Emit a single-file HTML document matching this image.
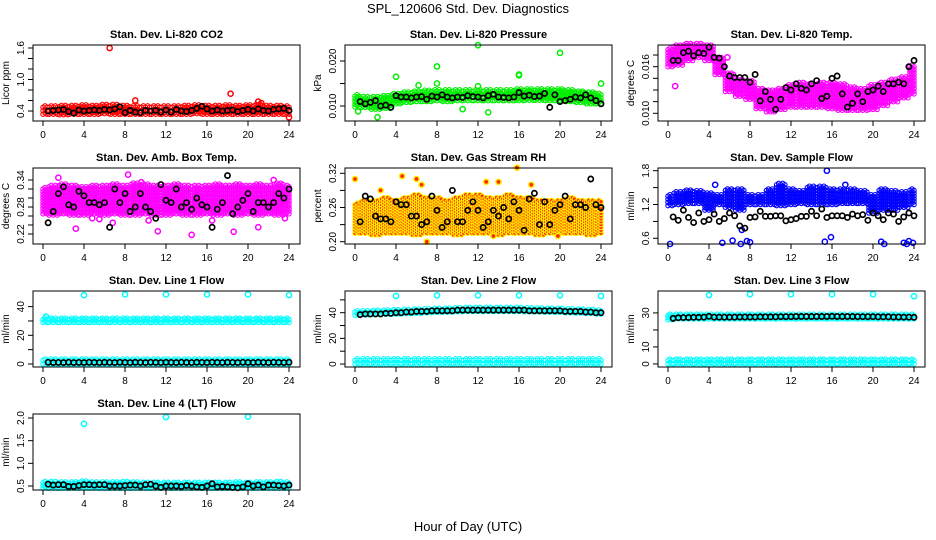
<!DOCTYPE html>
<html><head><meta charset="utf-8">
<style>
html,body{margin:0;padding:0;background:#fff;}
svg{display:block;font-family:"Liberation Sans",sans-serif;}
</style></head>
<body>
<svg id="chart" width="936" height="540" viewBox="0 0 936 540">
<text x="468" y="13" text-anchor="middle" font-size="13">SPL_120606  Std. Dev. Diagnostics</text>
<text x="468" y="531" text-anchor="middle" font-size="13">Hour of Day (UTC)</text>
</svg>
<script>
// ---- data (hours 0..24 for clouds, 0.5..24 step 0.5 for black points) ----
const xTicks = [0,4,8,12,16,20,24];
const co2Lo = [0.34,0.34,0.33,0.34,0.34,0.34,0.35,0.34,0.34,0.34,0.34,0.34,0.34,0.34,0.34,0.35,0.34,0.34,0.34,0.34,0.34,0.34,0.34,0.34,0.34];
const co2Hi = [0.47,0.47,0.48,0.48,0.49,0.48,0.50,0.50,0.48,0.47,0.47,0.47,0.47,0.47,0.48,0.49,0.48,0.48,0.49,0.48,0.49,0.50,0.48,0.48,0.47];
const co2Black = [0.40,0.41,0.42,0.43,0.39,0.36,0.42,0.40,0.41,0.42,0.41,0.43,0.42,0.44,0.48,0.37,0.41,0.38,0.37,0.41,0.40,0.41,0.38,0.42,0.38,0.43,0.40,0.39,0.41,0.45,0.49,0.44,0.40,0.42,0.40,0.41,0.42,0.39,0.41,0.43,0.40,0.44,0.41,0.40,0.43,0.44,0.45,0.41];
const co2OutX = [6.5,9,18.3,21,21.3,24];
const co2OutY = [1.6,0.6,0.73,0.58,0.55,0.28];

const presLo = [0.0098,0.0097,0.0093,0.0095,0.0105,0.0108,0.0110,0.0110,0.0112,0.0110,0.0112,0.0112,0.0112,0.0112,0.0112,0.0112,0.0112,0.0113,0.0113,0.0112,0.0112,0.0110,0.0108,0.0105,0.0105];
const presHi = [0.0122,0.0118,0.0118,0.0120,0.0125,0.0128,0.0130,0.0132,0.0133,0.0133,0.0133,0.0133,0.0133,0.0133,0.0133,0.0133,0.0135,0.0135,0.0135,0.0135,0.0135,0.0133,0.0130,0.0128,0.0125];
const presBlack = [0.0110,0.0105,0.0108,0.0112,0.0100,0.0102,0.0097,0.0123,0.0120,0.0120,0.0118,0.0120,0.0121,0.0115,0.0122,0.0120,0.0125,0.0120,0.0118,0.0120,0.0119,0.0123,0.0121,0.0120,0.0118,0.0123,0.0126,0.0120,0.0119,0.0118,0.0120,0.0130,0.0122,0.0124,0.0121,0.0122,0.0128,0.0097,0.0125,0.0110,0.0112,0.0115,0.0120,0.0118,0.0125,0.0118,0.0112,0.0105];
const presOutX = [0.3,4,6.2,8,8,12,12,16,16,20,24,13,10.5,2.2];
const presOutY = [0.0088,0.0165,0.0146,0.0188,0.0150,0.0235,0.0144,0.0170,0.0168,0.0218,0.0150,0.0086,0.0093,0.0075];

const tempLo = [0.0160,0.0162,0.0168,0.0172,0.0168,0.0150,0.0128,0.0122,0.0118,0.0106,0.0102,0.0105,0.0108,0.0108,0.0108,0.0108,0.0106,0.0104,0.0104,0.0104,0.0105,0.0110,0.0115,0.0120,0.0125];
const tempHi = [0.0182,0.0186,0.0188,0.0188,0.0186,0.0170,0.0150,0.0142,0.0140,0.0130,0.0128,0.0130,0.0135,0.0138,0.0136,0.0138,0.0138,0.0136,0.0132,0.0130,0.0135,0.0138,0.0142,0.0145,0.0160];
const tempBlack = [0.0168,0.0168,0.0178,0.0180,0.0174,0.0178,0.0177,0.0185,0.0172,0.0171,0.0160,0.0148,0.0146,0.0146,0.0146,0.0140,0.0150,0.0116,0.0128,0.0118,0.0105,0.0118,0.0133,0.0130,0.0138,0.0132,0.0130,0.0138,0.0142,0.0119,0.0122,0.0145,0.0148,0.0125,0.0108,0.0113,0.0125,0.0115,0.0128,0.0130,0.0135,0.0128,0.0138,0.0138,0.0140,0.0138,0.0160,0.0168];
const tempOutX = [0.7,4.5,5.8];
const tempOutY = [0.0135,0.0170,0.0172];

const ambLo = [0.265,0.262,0.265,0.262,0.262,0.265,0.262,0.265,0.262,0.262,0.265,0.262,0.262,0.265,0.262,0.262,0.265,0.262,0.265,0.262,0.265,0.262,0.265,0.262,0.265];
const ambHi = [0.320,0.325,0.328,0.325,0.322,0.325,0.325,0.328,0.325,0.330,0.328,0.325,0.325,0.328,0.325,0.325,0.325,0.328,0.325,0.328,0.325,0.328,0.325,0.330,0.325];
const ambBlack = [0.245,0.27,0.31,0.325,0.285,0.28,0.315,0.305,0.29,0.29,0.285,0.29,0.235,0.32,0.29,0.31,0.27,0.28,0.31,0.28,0.27,0.255,0.33,0.295,0.29,0.32,0.28,0.29,0.275,0.30,0.285,0.28,0.235,0.275,0.29,0.35,0.265,0.28,0.295,0.31,0.27,0.29,0.29,0.28,0.29,0.31,0.30,0.32];
const ambOutX = [3.2,6.8,8.3,11.2,14.5,18.6,21,22.5,1.5,9.6,4.8,5.5,10.3,16.5,23.6];
const ambOutY = [0.232,0.245,0.352,0.226,0.218,0.225,0.235,0.34,0.345,0.335,0.255,0.253,0.25,0.25,0.255];

const rhLo = [0.215,0.215,0.212,0.215,0.215,0.215,0.212,0.215,0.215,0.215,0.212,0.215,0.215,0.215,0.212,0.215,0.215,0.215,0.212,0.215,0.215,0.215,0.215,0.212,0.215];
const rhHi = [0.265,0.27,0.27,0.275,0.27,0.275,0.28,0.275,0.275,0.27,0.275,0.28,0.28,0.275,0.275,0.28,0.275,0.275,0.27,0.27,0.27,0.275,0.27,0.27,0.27];
const rhBlack = [0.235,0.28,0.275,0.245,0.24,0.24,0.235,0.27,0.265,0.265,0.245,0.245,0.23,0.235,0.28,0.255,0.225,0.235,0.29,0.235,0.235,0.255,0.27,0.255,0.225,0.235,0.255,0.245,0.26,0.24,0.27,0.255,0.22,0.275,0.285,0.23,0.27,0.23,0.255,0.265,0.28,0.24,0.265,0.265,0.26,0.31,0.265,0.26];
const rhOutX = [0,4.6,6,7,13.5,15.8,19.8,12.8,14,17.2,6.5,2.5];
const rhOutY = [0.31,0.315,0.31,0.20,0.21,0.33,0.21,0.305,0.305,0.30,0.30,0.29];

const flowLo = [1.18,1.2,1.22,1.22,1.1,1.2,1.15,1.1,1.2,1.2,1.2,1.18,1.2,1.22,1.2,1.2,1.2,1.22,1.22,1.22,1.05,1.1,1.1,1.15,1.2];
const flowHi = [1.35,1.4,1.43,1.42,1.38,1.35,1.45,1.45,1.35,1.35,1.45,1.55,1.45,1.42,1.5,1.5,1.45,1.45,1.45,1.42,1.35,1.45,1.42,1.4,1.45];
const flowBlack = [0.98,0.92,1.1,0.97,0.88,1.05,0.9,0.93,1.03,0.9,0.95,1.05,1.0,0.82,0.78,0.97,0.98,1.08,0.99,0.99,1.0,1.0,0.91,0.93,0.95,0.99,0.99,1.08,1.0,1.12,0.97,1.0,1.0,1.0,0.97,1.03,1.0,1.02,0.92,1.05,1.0,0.93,1.05,1.03,0.9,0.98,1.05,1.0];
const flowOutX = [0.2,5.3,6.3,7.1,7.7,8,15.3,15.5,15.9,20.8,21.1,23,23.3,23.5,23.9,4.6,17.3,7.2];
const flowOutY = [0.5,0.52,0.56,0.5,0.55,0.53,0.54,1.8,0.62,0.54,0.5,0.52,0.5,0.55,0.52,1.55,1.55,0.75];

const l1LoA = [29,29,29,29,29,29,29,29,29,29,29,29,29,29,29,29,29,29,29,29,29,29,29,29,29];
const l1HiA = [31,31,31,31,31,31,31,31,31,31,31,31,31,31,31,31,31,31,31,31,31,31,31,31,31];
const l1LoB = [0,0,0,0,0,0,0,0,0,0,0,0,0,0,0,0,0,0,0,0,0,0,0,0,0];
const l1HiB = [2.5,2.5,2.5,2.5,2.5,2.5,2.5,2.5,2.5,2.5,2.5,2.5,2.5,2.5,2.5,2.5,2.5,2.5,2.5,2.5,2.5,2.5,2.5,2.5,2.5];
const l1Black = [1.2,1.0,1.1,1.0,1.2,1.0,1.1,1.0,1.2,1.1,1.0,1.2,1.1,1.0,1.2,1.1,1.0,1.2,1.1,1.0,1.2,1.1,1.0,1.2,1.1,1.0,1.2,1.1,1.0,1.2,1.1,1.0,1.2,1.1,1.0,1.2,1.1,1.0,1.2,1.1,1.0,1.2,1.1,1.0,1.2,1.1,1.0,1.2];
const l1OutX = [4,8,12,16,20,24,0.3];
const l1OutY = [48,48.5,48.5,48.5,48.5,48,33];

const l2LoA = [38,38.3,38.5,38.8,39,39.3,39.6,40,40.3,40.5,40.8,41,41,41,41,41,41,40.8,40.6,40.5,40.3,40,39.8,39.5,39];
const l2HiA = [40.5,40.5,40.8,41,41.3,41.5,41.8,42,42.3,42.5,42.8,43,43,43,43,43,43,42.8,42.6,42.5,42.3,42,41.8,41.5,41];
const l2LoB = [0,0,0,0,0,0,0,0,0,0,0,0,0,0,0,0,0,0,0,0,0,0,0,0,0];
const l2HiB = [3,3,3,3,3,3,3,3,3,3,3,3,3,3,3,3,3,3,3,3,3,3,3,3,3];
const l2Black = [38.5,39,39,39,39,39.5,39.5,40,40,40.5,40.5,41,41,41,41.5,41.5,41.5,41.5,41.5,42,42,42,42,42,42,42,42,42,42,42,42,42,42,41.5,41.5,41.5,41.5,41.5,41.5,41.5,41,41,41,41,40.5,40.5,40,40];
const l2OutX = [4,8,12,16,20,24];
const l2OutY = [53,53.5,53.5,53.5,53.5,53];

const l3LoA = [26,26.5,26.5,26.5,26.5,26.5,26.5,26.5,26.5,26.5,26.5,26.5,26.5,26.5,26.5,26.5,26.5,26.5,26.5,26.5,26.5,26.5,26.5,26.5,26.5];
const l3HiA = [28.5,28.5,28.5,28.5,28.5,28.5,28.5,28.5,28.5,28.5,28.5,28.5,28.5,28.5,28.5,28.5,28.5,28.5,28.5,28.5,28.5,28.5,28.5,28.5,28.5];
const l3LoB = [0,0,0,0,0,0,0,0,0,0,0,0,0,0,0,0,0,0,0,0,0,0,0,0,0];
const l3HiB = [2,2,2,2,2,2,2,2,2,2,2,2,2,2,2,2,2,2,2,2,2,2,2,2,2];
const l3Black = [26.8,27.2,27.3,27.3,27.4,27.4,27.5,28,27.5,27.5,27.5,27.5,27.5,27.6,27.6,27.6,27.6,27.7,27.7,27.7,27.7,27.8,27.8,27.8,27.9,27.9,27.9,27.9,27.9,27.9,27.9,28,27.9,27.9,27.9,27.9,27.8,27.8,27.8,27.8,27.7,27.7,27.7,27.6,27.6,27.5,27.5,27.4];
const l3OutX = [4,8,12,16,20,24];
const l3OutY = [40.5,41,41,41,41,39.8];

const l4Lo = [0.45,0.45,0.45,0.45,0.45,0.45,0.45,0.45,0.45,0.45,0.45,0.45,0.45,0.45,0.45,0.45,0.45,0.45,0.45,0.45,0.45,0.45,0.45,0.45,0.45];
const l4Hi = [0.57,0.57,0.56,0.56,0.58,0.56,0.56,0.56,0.57,0.56,0.55,0.55,0.55,0.55,0.55,0.55,0.55,0.55,0.55,0.56,0.55,0.56,0.56,0.57,0.56];
const l4Black = [0.54,0.52,0.53,0.53,0.49,0.49,0.51,0.53,0.53,0.52,0.53,0.53,0.50,0.50,0.50,0.51,0.52,0.52,0.50,0.53,0.54,0.50,0.47,0.50,0.50,0.50,0.49,0.51,0.50,0.48,0.47,0.50,0.55,0.48,0.49,0.48,0.47,0.46,0.48,0.55,0.50,0.52,0.48,0.52,0.52,0.51,0.50,0.52];
const l4OutX = [4,12,20];
const l4OutY = [1.87,2.02,2.03];

// ---- panel definitions ----
const panels = [
 {name:'co2',title:'Stan. Dev. Li-820 CO2',ylab:'Licor ppm',col:0,row:0,ymin:0.21,ymax:1.657,ticks:[0.4,0.6,0.8,1.0,1.2,1.4,1.6],labels:['0.4','','','1.0','','','1.6'],color:'#ff0000',fill:'none',bands:[[co2Lo,co2Hi]],black:co2Black,ox:co2OutX,oy:co2OutY},
 {name:'pressure',title:'Stan. Dev. Li-820 Pressure',ylab:'kPa',col:1,row:0,ymin:0.00667,ymax:0.02356,ticks:[0.010,0.015,0.020],labels:['0.010','','0.020'],color:'#00ee00',fill:'none',bands:[[presLo,presHi]],black:presBlack,ox:presOutX,oy:presOutY},
 {name:'temp',title:'Stan. Dev. Li-820 Temp.',ylab:'degrees C',col:2,row:0,ymin:0.00901,ymax:0.01879,ticks:[0.010,0.0115,0.013,0.0145,0.016,0.0175],labels:['0.010','','','','0.016',''],color:'#ff00ff',fill:'none',bands:[[tempLo,tempHi]],black:tempBlack,ox:tempOutX,oy:tempOutY},
 {name:'amb-box-temp',title:'Stan. Dev. Amb. Box Temp.',ylab:'degrees C',col:0,row:1,ymin:0.1978,ymax:0.3667,ticks:[0.22,0.24,0.26,0.28,0.30,0.32,0.34],labels:['0.22','','','0.28','','','0.34'],color:'#ff00ff',fill:'none',bands:[[ambLo,ambHi]],black:ambBlack,ox:ambOutX,oy:ambOutY},
 {name:'gas-stream-rh',title:'Stan. Dev. Gas Stream RH',ylab:'percent',col:1,row:1,ymin:0.196,ymax:0.3293,ticks:[0.20,0.23,0.26,0.29,0.32],labels:['0.20','','0.26','','0.32'],color:'#ffee00',fill:'#ff2a00',bands:[[rhLo,rhHi]],black:rhBlack,ox:rhOutX,oy:rhOutY},
 {name:'sample-flow',title:'Stan. Dev. Sample Flow',ylab:'ml/min',col:2,row:1,ymin:0.499,ymax:1.848,ticks:[0.6,0.9,1.2,1.5,1.8],labels:['0.6','','1.2','','1.8'],color:'#0000ff',fill:'none',bands:[[flowLo,flowHi]],black:flowBlack,ox:flowOutX,oy:flowOutY},
 {name:'line1-flow',title:'Stan. Dev. Line 1 Flow',ylab:'ml/min',col:0,row:2,ymin:-2.1,ymax:50.9,ticks:[0,10,20,30,40],labels:['0','','20','','40'],color:'#00ffff',fill:'none',bands:[[l1LoA,l1HiA],[l1LoB,l1HiB]],black:l1Black,ox:l1OutX,oy:l1OutY},
 {name:'line2-flow',title:'Stan. Dev. Line 2 Flow',ylab:'ml/min',col:1,row:2,ymin:-2.3,ymax:56.9,ticks:[0,10,20,30,40,50],labels:['0','','20','','40',''],color:'#00ffff',fill:'none',bands:[[l2LoA,l2HiA],[l2LoB,l2HiB]],black:l2Black,ox:l2OutX,oy:l2OutY},
 {name:'line3-flow',title:'Stan. Dev. Line 3 Flow',ylab:'ml/min',col:2,row:2,ymin:-1.8,ymax:42.9,ticks:[0,10,20,30],labels:['0','10','','30'],color:'#00ffff',fill:'none',bands:[[l3LoA,l3HiA],[l3LoB,l3HiB]],black:l3Black,ox:l3OutX,oy:l3OutY},
 {name:'line4-flow',title:'Stan. Dev. Line 4 (LT) Flow',ylab:'ml/min',col:0,row:3,ymin:0.412,ymax:2.088,ticks:[0.5,1.0,1.5,2.0],labels:['0.5','1.0','1.5','2.0'],color:'#00ffff',fill:'none',bands:[[l4Lo,l4Hi]],black:l4Black,ox:l4OutX,oy:l4OutY}
];
const colLeft = [33,345,658];
const rowTop = [45,168,291,414];
const W = 267, H = 76;

const NS = 'http://www.w3.org/2000/svg';
const svg = document.getElementById('chart');
function mk(tag, attrs, parent){
  const e = document.createElementNS(NS, tag);
  for (const k in attrs) e.setAttribute(k, attrs[k]);
  (parent||svg).appendChild(e);
  return e;
}

panels.forEach(p => {
  const L = colLeft[p.col], T = rowTop[p.row], B = T + H;
  const xs = h => L + 10 + h * (246/24);
  const ys = v => B - (v - p.ymin) / (p.ymax - p.ymin) * H;
  const g = mk('g', {});
  
  

  const t = mk('text', {x: L + W/2, y: T - 7, 'text-anchor':'middle', 'font-size':'11', 'font-weight':'bold'}, g);
  t.textContent = p.title;
  
  

  const yl = mk('text', {x: 0, y: 0, 'text-anchor':'middle', 'font-size':'10', transform:`translate(${L-24},${T+H/2}) rotate(-90)`}, g);
  yl.textContent = p.ylab;
  
  

  const marks = mk('g', {}, g);
  
  
  const dxs = [-0.4,-0.2,0,0.2,0.4];
  p.bands.forEach(([lo, hi]) => {
    lo.forEach((lv, i) => {
      const hv = hi[i];
      const py1 = ys(lv), py2 = ys(hv);
      const n = Math.max(1, Math.round((py1 - py2) / 2.8));
      dxs.forEach((dx, j) => {
        const h = i + dx;
        if (h < 0 || h > 24) return;
        for (let k = 0; k <= n; k++) {
          const off = (j % 2) ? 1.4 : 0;
          const cy = py1 - k * (py1 - py2) / n - off;
          const c = mk('circle', {cx: xs(h).toFixed(1), cy: cy.toFixed(1), r: 2.2, fill: p.fill, stroke: p.color, 'stroke-width': 1.1}, marks);
          
          
        }
      });
    });
  });
  p.ox.forEach((h, i) => {
    const c = mk('circle', {cx: xs(h), cy: ys(p.oy[i]), r: 2.6, fill: p.fill, stroke: p.color, 'stroke-width': 1.5}, marks);
    
    
  });
  p.black.forEach((v, i) => {
    const c = mk('circle', {cx: xs(0.5 + i*0.5), cy: ys(v), r: 2.6, fill: 'none', stroke: '#000', 'stroke-width': 1.7}, marks);
    
    
  });

  const box = mk('rect', {x: L, y: T, width: W, height: H, fill: 'none', stroke: '#000', 'stroke-width': 1}, g);
  
  

  const xa = mk('g', {}, g);
  
  
  mk('line', {x1: xs(xTicks[0]), x2: xs(xTicks[xTicks.length-1]), y1: B, y2: B, stroke: '#000'}, xa);
  xTicks.forEach(h => {
    mk('line', {x1: xs(h), x2: xs(h), y1: B, y2: B + 5, stroke: '#000'}, xa);
    const tl = mk('text', {x: xs(h), y: B + 17, 'text-anchor':'middle', 'font-size':'10'}, xa);
    tl.textContent = h;
    
    
  });

  const ya = mk('g', {}, g);
  
  
  mk('line', {x1: L, x2: L, y1: ys(p.ticks[0]), y2: ys(p.ticks[p.ticks.length-1]), stroke: '#000'}, ya);
  p.ticks.forEach((v, i) => {
    mk('line', {x1: L - 5, x2: L, y1: ys(v), y2: ys(v), stroke: '#000'}, ya);
    if (p.labels[i]) {
      const tl = mk('text', {x: 0, y: 0, 'text-anchor':'middle', 'font-size':'10', transform:`translate(${L-9},${ys(v)}) rotate(-90)`}, ya);
      tl.textContent = p.labels[i];
      
      
    }
  });
});
</script>
</body></html>
